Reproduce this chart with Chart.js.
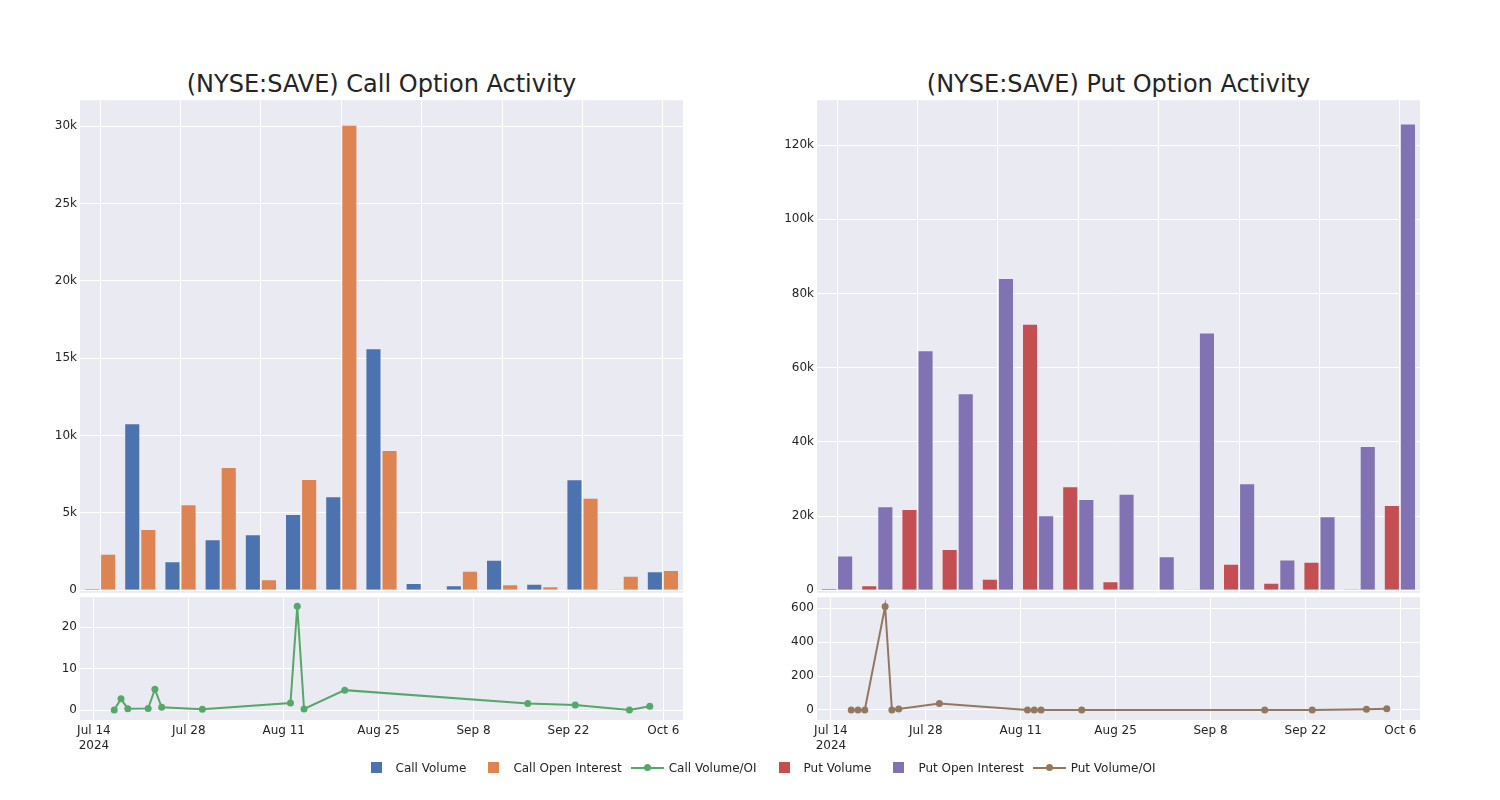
<!DOCTYPE html>
<html>
<head>
<meta charset="utf-8">
<script src="https://cdn.jsdelivr.net/npm/chart.js@4.4.0/dist/chart.umd.min.js"></script>
<style>
  body { margin: 0; width: 1500px; height: 800px; background: #fff; position: relative; overflow: hidden;
         font-family: 'DejaVu Sans', sans-serif; color: #242424; }
  canvas { position: absolute; }
  .title { position: absolute; width: 603px; top: 67px; font-size: 24px; line-height: 34px; text-align: center; }
  #legend { position: absolute; top: 759px; left: 0; width: 1518px; display: flex; justify-content: center;
            font-size: 12px; line-height: 18px; }
  .item { display: flex; align-items: center; margin-right: 7px; }
  .sym { position: relative; width: 40px; height: 18px; }
  .sq { position: absolute; left: 15px; top: 3px; width: 11px; height: 11px; }
  .ln { position: absolute; left: 2px; top: 8px; width: 33px; height: 2px; }
  .dot { position: absolute; left: 15px; top: 5px; width: 7px; height: 7px; border-radius: 50%; }
</style>
</head>
<body>
<div class="title" style="left:80px">(NYSE:SAVE) Call Option Activity</div>
<div class="title" style="left:817px">(NYSE:SAVE) Put Option Activity</div>

<canvas id="callBar" width="700" height="513" style="left:0;top:90px"></canvas>
<canvas id="callLine" width="700" height="173" style="left:0;top:587px"></canvas>
<canvas id="putBar" width="700" height="513" style="left:737px;top:90px"></canvas>
<canvas id="putLine" width="700" height="173" style="left:737px;top:587px"></canvas>

<div id="legend">
  <div class="item"><div class="sym"><div class="sq" style="background:#4c72b0"></div></div>Call Volume</div>
  <div class="item"><div class="sym"><div class="sq" style="background:#dd8452"></div></div>Call Open Interest</div>
  <div class="item"><div class="sym"><div class="ln" style="background:#55a868"></div><div class="dot" style="background:#55a868"></div></div>Call Volume/OI</div>
  <div class="item"><div class="sym"><div class="sq" style="background:#c44e52"></div></div>Put Volume</div>
  <div class="item"><div class="sym"><div class="sq" style="background:#8172b3"></div></div>Put Open Interest</div>
  <div class="item"><div class="sym"><div class="ln" style="background:#937860"></div><div class="dot" style="background:#937860"></div></div>Put Volume/OI</div>
</div>

<script>
const dates = ['2024-07-17', '2024-07-18', '2024-07-19', '2024-07-22', '2024-07-23', '2024-07-24', '2024-07-30',
  '2024-08-12', '2024-08-13', '2024-08-14', '2024-08-20', '2024-09-16', '2024-09-23', '2024-10-01', '2024-10-04'];

const callVolume = [100, 10800, 1870, 3290, 3620, 4930, 6070, 15640, 470, 320, 1960, 410, 7170, 40, 1230];
const callOpenInterest = [2350, 3960, 5550, 7960, 710, 7190, 30100, 9060, 20, 1250, 390, 260, 5980, 930, 1310];
const callVolumeOI = [0.04, 2.7, 0.33, 0.4, 5.0, 0.65, 0.2, 1.7, 25, 0.25, 4.8, 1.55, 1.2, 0.04, 0.93];

const putVolume = [450, 1350, 21900, 11100, 3060, 71800, 28000, 2430, 100, 200, 7100, 1980, 7640, 300, 23000];
const putOpenInterest = [9350, 22650, 64700, 53100, 84200, 20200, 24600, 26000, 9170, 69500, 28850, 8270, 19960, 38900, 125800];
const putVolumeOI = [0.05, 0.06, 0.3, 610, 0.2, 6, 38, 0.1, 0.3, 0.1, 0.3, 0.2, 0.4, 4, 7];

const dateTicks = ['2024-07-14', '2024-07-28', '2024-08-11', '2024-08-25', '2024-09-08', '2024-09-22', '2024-10-06'];
const dateTickLabels = [['Jul 14', '2024'], 'Jul 28', 'Aug 11', 'Aug 25', 'Sep 8', 'Sep 22', 'Oct 6'];

const callBarTicks = [0, 5000, 10000, 15000, 20000, 25000, 30000];
const callBarTickLabels = ['0', '5k', '10k', '15k', '20k', '25k', '30k'];
const putBarTicks = [0, 20000, 40000, 60000, 80000, 100000, 120000];
const putBarTickLabels = ['0', '20k', '40k', '60k', '80k', '100k', '120k'];
const callLineTicks = [0, 10, 20];
const putLineTicks = [0, 200, 400, 600];

const DAY = 86400000;
const start = Date.parse('2024-07-14');
const toDay = d => (Date.parse(d) - start) / DAY;

const TICK_FONT = { family: "'DejaVu Sans', sans-serif", size: 12 };
const TICK_COLOR = '#242424';

const plotBg = {
  id: 'plotBg',
  beforeDraw(chart) {
    const { ctx, chartArea: a } = chart;
    ctx.save();
    ctx.fillStyle = '#eaeaf2';
    ctx.fillRect(a.left, a.top, a.right - a.left, a.bottom - a.top);
    ctx.restore();
  },
};

function yScale(min, max, ticks, labels) {
  return {
    min: min,
    max: max,
    afterBuildTicks: s => { s.ticks = ticks.map(v => ({ value: v })); },
    afterFit: s => { s.width = 80; },
    ticks: {
      font: TICK_FONT,
      color: TICK_COLOR,
      padding: 3,
      callback: (v, i) => labels[i],
    },
    grid: { color: '#ffffff', drawTicks: false },
    border: { display: false },
  };
}

function drawBars(id, labels, a, b, colorA, colorB, yMin, yMax, ticks, tickLabels) {
  new Chart(document.getElementById(id), {
    type: 'bar',
    data: {
      labels: labels,
      datasets: [
        { data: a, backgroundColor: colorA, borderColor: 'rgba(234,234,242,0.6)', borderWidth: 1,
          categoryPercentage: 0.8, barPercentage: 1 },
        { data: b, backgroundColor: colorB, borderColor: 'rgba(234,234,242,0.6)', borderWidth: 1,
          categoryPercentage: 0.8, barPercentage: 1 },
      ],
    },
    options: {
      responsive: false,
      animation: false,
      devicePixelRatio: 1,
      layout: { padding: { top: 10, bottom: 10, left: 0, right: 17 } },
      plugins: { legend: { display: false }, tooltip: { enabled: false } },
      scales: {
        x: {
          ticks: { display: false },
          grid: {
            offset: false,
            drawTicks: false,
            color: ctx => (ctx.index % 2 === 0 ? '#ffffff' : 'rgba(0,0,0,0)'),
          },
          border: { display: false },
          afterFit: s => { s.height = 0; },
        },
        y: yScale(yMin, yMax, ticks, tickLabels),
      },
    },
    plugins: [plotBg],
  });
}

function drawLine(id, values, color, yMin, yMax, ticks) {
  new Chart(document.getElementById(id), {
    type: 'line',
    data: {
      datasets: [{
        data: dates.map((d, i) => ({ x: toDay(d), y: values[i] })),
        borderColor: color,
        backgroundColor: color,
        borderWidth: 2,
        pointRadius: 3.5,
        pointBorderWidth: 0,
        tension: 0,
      }],
    },
    options: {
      responsive: false,
      animation: false,
      devicePixelRatio: 1,
      layout: { padding: { top: 10, bottom: 0, left: 0, right: 17 } },
      plugins: { legend: { display: false }, tooltip: { enabled: false } },
      scales: {
        x: {
          type: 'linear',
          min: -2.05,
          max: 86.9,
          afterBuildTicks: s => { s.ticks = dateTicks.map(d => ({ value: toDay(d) })); },
          afterFit: s => { s.height = 40; },
          ticks: {
            font: TICK_FONT,
            color: TICK_COLOR,
            padding: 4,
            maxRotation: 0,
            autoSkip: false,
            callback: (v, i) => dateTickLabels[i],
          },
          grid: { color: '#ffffff', drawTicks: false },
          border: { display: false },
        },
        y: yScale(yMin, yMax, ticks, ticks.map(String)),
      },
    },
    plugins: [plotBg],
  });
}

drawBars('callBar', dates, callVolume, callOpenInterest, '#4c72b0', '#dd8452', -170, 31680, callBarTicks, callBarTickLabels);
drawBars('putBar', dates, putVolume, putOpenInterest, '#c44e52', '#8172b3', -700, 132100, putBarTicks, putBarTickLabels);
drawLine('callLine', callVolumeOI, '#55a868', -2.4, 27.2, callLineTicks);
drawLine('putLine', putVolumeOI, '#937860', -59, 665, putLineTicks);
</script>
</body>
</html>
